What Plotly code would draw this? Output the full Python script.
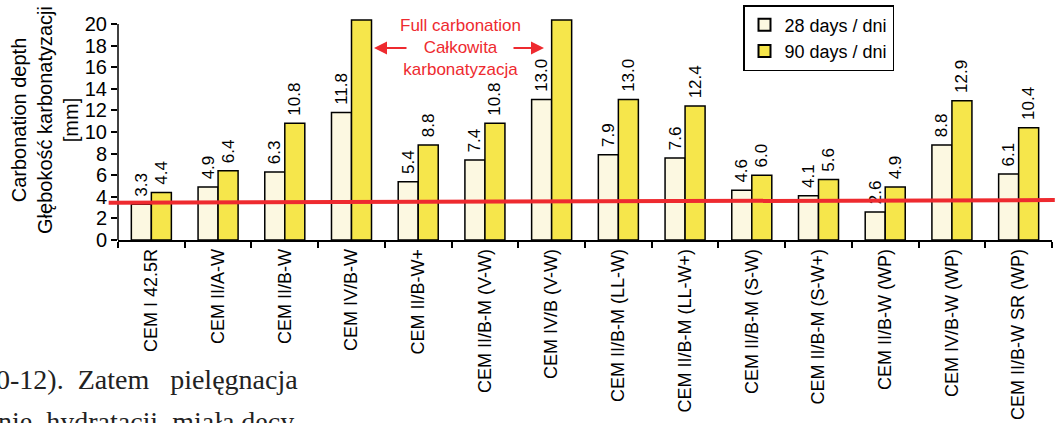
import plotly.graph_objects as go

categories = ["CEM I 42.5R", "CEM II/A-W", "CEM II/B-W", "CEM IV/B-W", "CEM II/B-W+",
              "CEM II/B-M (V-W)", "CEM IV/B (V-W)", "CEM II/B-M (LL-W)", "CEM II/B-M (LL-W+)",
              "CEM II/B-M (S-W)", "CEM II/B-M (S-W+)", "CEM II/B-W (WP)", "CEM IV/B-W (WP)",
              "CEM II/B-W SR (WP)"]
days28 = [3.3, 4.9, 6.3, 11.8, 5.4, 7.4, 13.0, 7.9, 7.6, 4.6, 4.1, 2.6, 8.8, 6.1]
# None = full carbonation (bar runs just past the top of the scale)
days90 = [4.4, 6.4, 10.8, None, 8.8, 10.8, None, 13.0, 12.4, 6.0, 5.6, 4.9, 12.9, 10.4]
full_carbonation_bar = 20.37   # drawn height of the "full carbonation" bars [mm]
ref_line = [3.45, 3.7]         # red reference line, left and right ends [mm]
y_ticks = list(range(0, 21, 2))

Y_TOP = 22.22
FONT = "Liberation Sans, Arial, sans-serif"
CREAM = "#FCF8E1"
YELLOW = "#F6E64B"
RED = "#EE2A2F"

d90_plot = [full_carbonation_bar if v is None else v for v in days90]
t28 = ["\u00a0" + f"{v:.1f}" for v in days28]
t90 = ["" if v is None else "\u00a0" + f"{v:.1f}" for v in days90]

fig = go.Figure()
fig.add_trace(go.Bar(x=categories, y=days28, name="28 days / dni",
                     marker=dict(color=CREAM, line=dict(color="black", width=1.5)),
                     text=t28, textposition="outside", textangle=-90,
                     textfont=dict(size=17, color="black", family=FONT),
                     constraintext="none", cliponaxis=False))
fig.add_trace(go.Bar(x=categories, y=d90_plot, name="90 days / dni",
                     marker=dict(color=YELLOW, line=dict(color="black", width=1.5)),
                     text=t90, textposition="outside", textangle=-90,
                     textfont=dict(size=17, color="black", family=FONT),
                     constraintext="none", cliponaxis=False))

fig.update_layout(
    width=1060, height=423,
    margin=dict(l=118, r=8, t=0, b=183, autoexpand=False),
    paper_bgcolor="white", plot_bgcolor="white",
    barmode="group", bargap=0.4, bargroupgap=0,
    font=dict(family=FONT, color="black"),
    showlegend=True,
    legend=dict(x=(743 - 118) / 934, y=(240 - 5) / 240, xanchor="left", yanchor="top",
                bordercolor="black", borderwidth=1.5, bgcolor="white",
                font=dict(size=18, family=FONT), tracegroupgap=0,
                itemsizing="constant"),
    xaxis=dict(showline=True, linecolor="black", linewidth=1.5, automargin=False,
               ticks="outside", tickson="boundaries", ticklen=6, tickwidth=1.5,
               tickcolor="black", tickangle=-90, tickfont=dict(size=18, family=FONT),
               showgrid=False, zeroline=False),
    yaxis=dict(range=[0, Y_TOP], tickvals=y_ticks, showline=False, automargin=False,
               ticks="outside", ticklen=6, tickwidth=1.5, tickcolor="black",
               tickfont=dict(size=20, family=FONT), showgrid=False, zeroline=False,
               title=dict(text="Carbonation depth<br>Głębokość karbonatyzacji<br>[mm]",
                          font=dict(size=20, family=FONT), standoff=0)),
)

# y axis line only up to 20 mm
fig.add_shape(type="line", xref="paper", yref="y", x0=0, x1=0, y0=0, y1=y_ticks[-1],
              line=dict(color="black", width=1.5))
# red reference line
fig.add_shape(type="line", xref="paper", yref="y", x0=-0.01, x1=1.003,
              y0=ref_line[0], y1=ref_line[1], line=dict(color=RED, width=4), layer="above")

# full carbonation note
fig.add_annotation(text="Full carbonation<br>Całkowita<br>karbonatyzacja", xref="paper", yref="paper",
                   x=(460 - 118) / 934, y=(240 - 48) / 240, showarrow=False,
                   font=dict(size=17, color=RED, family=FONT),
                   xanchor="center", yanchor="middle")
for tip, dx in [((374 - 118) / 934, 34), ((544 - 118) / 934, -32)]:
    fig.add_annotation(text="", xref="paper", yref="paper", x=tip, y=(240 - 48) / 240,
                       ax=dx, ay=0, showarrow=True, arrowhead=2, arrowsize=1.3,
                       arrowwidth=2, arrowcolor=RED)

# surrounding page text (cropped)
SERIF = "Liberation Serif, Times New Roman, serif"
nb = "\u00a0"
fig.add_annotation(text="0-12)." + nb * 2 + "Zatem" + nb * 3 + "pielęgnacja", xref="paper", yref="paper",
                   x=(-6 - 118) / 934, y=(240 - 379) / 240, xanchor="left", yanchor="middle",
                   showarrow=False, font=dict(size=28, family=SERIF, color="#222"))
fig.add_annotation(text="nie" + nb * 2 + "hydratacji" + nb * 2 + "miała" + nb + "decy", xref="paper", yref="paper",
                   x=(-4 - 118) / 934, y=(240 - 404) / 240, xanchor="left", yanchor="top",
                   showarrow=False, font=dict(size=28, family=SERIF, color="#222"))

fig.write_html("out.html", config={"displayModeBar": False},
               post_script="document.body.style.margin='0';document.body.style.overflow='hidden';")
